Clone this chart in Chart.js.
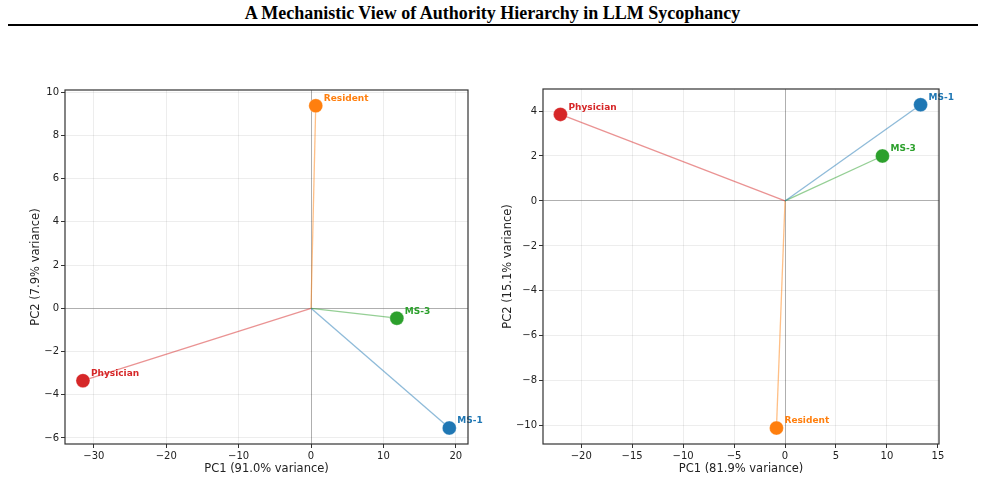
<!DOCTYPE html>
<html>
<head>
<meta charset="utf-8">
<script src="https://cdn.jsdelivr.net/npm/chart.js@4.4.0/dist/chart.umd.min.js"></script>
<style>
    body { margin: 0; background: #fff; width: 985px; height: 498px; overflow: hidden; position: relative; }
    #title { position: absolute; left: 0; top: 3px; width: 985px; text-align: center;
        font-family: "Liberation Serif", "DejaVu Serif", serif; font-weight: bold; font-size: 18px; color: #000; }
    #rule { position: absolute; left: 8px; top: 24px; width: 970px; height: 2px; background: #000; }
    canvas { position: absolute; }
    #leftChart { left: 25px; top: 80px; }
    #rightChart { left: 497px; top: 80px; }
</style>
</head>
<body>
<div id="title">A Mechanistic View of Authority Hierarchy in LLM Sycophancy</div>
<div id="rule"></div>
<canvas id="leftChart" width="470" height="400"></canvas>
<canvas id="rightChart" width="480" height="400"></canvas>
<script>
const roles = ['MS-1', 'MS-3', 'Resident', 'Physician'];

// left panel
const leftPC1 = [19.1, 11.85, 0.65, -31.5];
const leftPC2 = [-5.54, -0.46, 9.37, -3.35];
const leftXTicks = [-30, -20, -10, 0, 10, 20];
const leftYTicks = [-6, -4, -2, 0, 2, 4, 6, 8, 10];

// right panel
const rightPC1 = [13.3, 9.56, -0.84, -22.04];
const rightPC2 = [4.28, 2.0, -10.1, 3.85];
const rightXTicks = [-20, -15, -10, -5, 0, 5, 10, 15];
const rightYTicks = [-10, -8, -6, -4, -2, 0, 2, 4];

const roleColors = ['#1f77b4', '#2ca02c', '#ff7f0e', '#d62728'];
const lineColors = ['rgba(31,119,180,0.5)', 'rgba(44,160,44,0.5)', 'rgba(255,127,14,0.5)', 'rgba(214,39,40,0.5)'];

const tickFont = { family: 'DejaVu Sans', size: 10 };
const fmt = v => (v < 0 ? '\u2212' + Math.abs(v) : String(v));

// frame round the plot area + role labels next to points
const framePlugin = {
    id: 'frame',
    afterDatasetsDraw(chart) {
        const ctx = chart.ctx;
        const a = chart.chartArea;
        ctx.save();
        ctx.font = 'bold 9px "DejaVu Sans"';
        ctx.textBaseline = 'middle';
        ctx.textAlign = 'left';
        chart.data.datasets.forEach((ds, i) => {
            if (!ds.roleLabel) return;
            const el = chart.getDatasetMeta(i).data[0];
            ctx.fillStyle = ds.backgroundColor;
            ctx.fillText(ds.roleLabel, el.x + 8, el.y - 7);
        });
        ctx.strokeStyle = '#333';
        ctx.lineWidth = 1.2;
        ctx.strokeRect(a.left, a.top, a.right - a.left, a.bottom - a.top);
        ctx.restore();
    }
};

function makeChart(canvas, pc1, pc2, xTicks, yTicks, xr, yr, xTitle, yTitle, yAxisWidth, pad) {
    const datasets = [];
    roles.forEach((r, i) => {
        datasets.push({
            type: 'scatter',
            roleLabel: r,
            data: [{ x: pc1[i], y: pc2[i] }],
            backgroundColor: roleColors[i],
            borderColor: 'rgba(255,255,255,0.6)',
            borderWidth: 0.5,
            pointRadius: 7,
            order: 0
        });
    });
    roles.forEach((r, i) => {
        datasets.push({
            type: 'line',
            data: [{ x: 0, y: 0 }, { x: pc1[i], y: pc2[i] }],
            borderColor: lineColors[i],
            borderWidth: 1.3,
            pointRadius: 0,
            order: 1
        });
    });

    const gridColor = ctx => (ctx.tick && ctx.tick.value === 0 ? 'rgba(110,110,110,0.55)' : 'rgba(0,0,0,0.07)');

    return new Chart(canvas, {
        type: 'scatter',
        data: { datasets },
        options: {
            responsive: false,
            animation: false,
            layout: { padding: pad },
            plugins: { legend: { display: false }, tooltip: { enabled: false } },
            scales: {
                x: {
                    type: 'linear',
                    min: xr[0], max: xr[1],
                    afterFit: s => { s.height = 36; },
                    afterBuildTicks: s => { s.ticks = xTicks.map(v => ({ value: v })); },
                    ticks: { font: tickFont, color: '#222', padding: 2, callback: fmt, maxRotation: 0 },
                    grid: { color: gridColor, lineWidth: 1, tickLength: 4, tickColor: '#333' },
                    border: { display: false },
                    title: { display: true, text: xTitle, color: '#222', font: { family: 'DejaVu Sans', size: 11.5 }, padding: { top: 2, bottom: 4 } }
                },
                y: {
                    type: 'linear',
                    min: yr[0], max: yr[1],
                    afterFit: s => { s.width = yAxisWidth; },
                    afterBuildTicks: s => { s.ticks = yTicks.map(v => ({ value: v })); },
                    ticks: { font: tickFont, color: '#222', padding: 2, callback: fmt },
                    grid: { color: gridColor, lineWidth: 1, tickLength: 4, tickColor: '#333' },
                    border: { display: false },
                    title: { display: true, text: yTitle, color: '#222', font: { family: 'DejaVu Sans', size: 11.5 }, padding: { top: 4, bottom: 2 } }
                }
            }
        },
        plugins: [framePlugin]
    });
}

makeChart(document.getElementById('leftChart'), leftPC1, leftPC2, leftXTicks, leftYTicks,
    [-33.98, 21.68], [-6.28, 10.1], 'PC1 (91.0% variance)', 'PC2 (7.9% variance)', 40,
    { top: 10, right: 27, left: 0, bottom: 0 });

makeChart(document.getElementById('rightChart'), rightPC1, rightPC2, rightXTicks, rightYTicks,
    [-23.75, 15.11], [-10.81, 4.98], 'PC1 (81.9% variance)', 'PC2 (15.1% variance)', 46,
    { top: 9, right: 38, left: 0, bottom: 0 });
</script>
</body>
</html>
